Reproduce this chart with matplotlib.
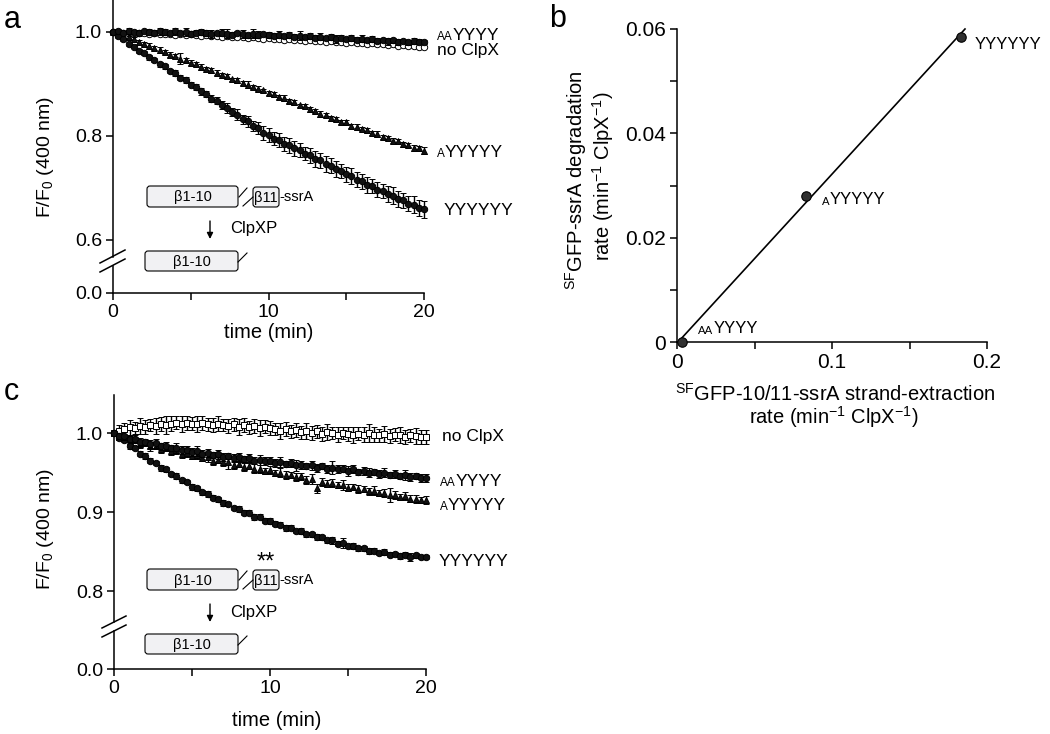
import numpy as np
import matplotlib
matplotlib.use('Agg')
import matplotlib.pyplot as plt
from matplotlib.patches import FancyBboxPatch

plt.rcParams['font.family'] = ['Liberation Sans', 'DejaVu Sans']
plt.rcParams['mathtext.default'] = 'regular'

# time axis of the kinetic traces (one reading every 20 s)
time_min = np.linspace(0, 20, 61)

# panel a : F/F0 traces
a_aa = [1.000, 1.001, 0.999, 1.002, 1.000, 0.998, 1.001, 1.000, 0.999, 1.001,
        1.000, 0.998, 1.001, 0.999, 1.000, 0.997, 0.999, 1.000, 0.998, 0.996,
        0.998, 0.999, 0.997, 0.995, 0.998, 0.996, 0.994, 0.997, 0.995, 0.996,
        0.994, 0.993, 0.995, 0.992, 0.994, 0.991, 0.993, 0.990, 0.992, 0.989,
        0.991, 0.988, 0.990, 0.987, 0.989, 0.986, 0.988, 0.985, 0.987, 0.984,
        0.986, 0.983, 0.985, 0.982, 0.984, 0.981, 0.983, 0.980, 0.982, 0.981, 0.981]
a_aa_err = [0.002, 0.004, 0.003, 0.005, 0.004, 0.006, 0.003, 0.005, 0.004, 0.007,
            0.005, 0.004, 0.006, 0.003, 0.008, 0.005, 0.004, 0.006, 0.005, 0.007,
            0.004, 0.006, 0.009, 0.005, 0.004, 0.007, 0.005, 0.008, 0.006, 0.004,
            0.006, 0.005, 0.007, 0.004, 0.006, 0.005, 0.008, 0.004, 0.006, 0.005,
            0.007, 0.004, 0.006, 0.008, 0.005, 0.004, 0.006, 0.005, 0.007, 0.004,
            0.006, 0.005, 0.004, 0.007, 0.005, 0.006, 0.004, 0.005, 0.006, 0.005, 0.004]
a_no = [1.000, 1.000, 0.998, 1.000, 0.999, 0.998, 0.999, 0.997, 0.998, 0.997,
        0.996, 0.997, 0.995, 0.996, 0.994, 0.996, 0.994, 0.993, 0.994, 0.992,
        0.993, 0.991, 0.992, 0.990, 0.991, 0.990, 0.988, 0.990, 0.988, 0.987,
        0.988, 0.986, 0.987, 0.985, 0.987, 0.984, 0.985, 0.983, 0.984, 0.982,
        0.983, 0.981, 0.982, 0.980, 0.981, 0.979, 0.980, 0.978, 0.979, 0.977,
        0.978, 0.976, 0.977, 0.975, 0.976, 0.974, 0.975, 0.973, 0.974, 0.972, 0.971]
a_no_err = [0.001, 0.002, 0.002, 0.003, 0.002, 0.002, 0.003, 0.002, 0.002, 0.003,
            0.002, 0.002, 0.003, 0.002, 0.002, 0.002, 0.003, 0.002, 0.002, 0.003,
            0.002, 0.002, 0.002, 0.003, 0.002, 0.002, 0.003, 0.002, 0.002, 0.002,
            0.003, 0.002, 0.002, 0.003, 0.002, 0.002, 0.002, 0.003, 0.002, 0.002,
            0.003, 0.002, 0.002, 0.002, 0.003, 0.002, 0.002, 0.003, 0.002, 0.002,
            0.002, 0.003, 0.002, 0.002, 0.003, 0.002, 0.002, 0.003, 0.002, 0.002, 0.002]
a_a = [1.000, 0.997, 0.993, 0.990, 0.986, 0.981, 0.977, 0.973, 0.970, 0.965,
       0.962, 0.956, 0.954, 0.949, 0.946, 0.941, 0.939, 0.933, 0.929, 0.926,
       0.922, 0.917, 0.915, 0.909, 0.907, 0.902, 0.899, 0.894, 0.891, 0.888,
       0.882, 0.880, 0.875, 0.873, 0.867, 0.865, 0.859, 0.857, 0.851, 0.848,
       0.843, 0.840, 0.834, 0.832, 0.827, 0.826, 0.820, 0.818, 0.813, 0.811,
       0.806, 0.804, 0.798, 0.797, 0.791, 0.790, 0.784, 0.782, 0.777, 0.776, 0.772]
a_a_err = [0.002, 0.003, 0.004, 0.003, 0.005, 0.004, 0.003, 0.005, 0.004, 0.006,
           0.004, 0.005, 0.003, 0.010, 0.004, 0.005, 0.004, 0.006, 0.003, 0.005,
           0.004, 0.005, 0.004, 0.003, 0.005, 0.004, 0.006, 0.004, 0.005, 0.003,
           0.004, 0.005, 0.004, 0.006, 0.004, 0.005, 0.003, 0.004, 0.005, 0.004,
           0.006, 0.004, 0.005, 0.004, 0.003, 0.005, 0.004, 0.006, 0.004, 0.005,
           0.004, 0.005, 0.004, 0.003, 0.005, 0.004, 0.005, 0.004, 0.006, 0.005, 0.006]
a_y = [1.000, 0.992, 0.986, 0.977, 0.972, 0.964, 0.959, 0.951, 0.946, 0.938,
       0.934, 0.925, 0.921, 0.912, 0.908, 0.899, 0.894, 0.886, 0.881, 0.872,
       0.868, 0.859, 0.854, 0.846, 0.841, 0.832, 0.828, 0.819, 0.815, 0.806,
       0.802, 0.795, 0.792, 0.785, 0.782, 0.776, 0.773, 0.766, 0.763, 0.756,
       0.753, 0.746, 0.743, 0.736, 0.733, 0.726, 0.723, 0.716, 0.713, 0.706,
       0.704, 0.697, 0.694, 0.688, 0.685, 0.679, 0.676, 0.670, 0.668, 0.662, 0.659]
a_y_err = [0.002, 0.003, 0.003, 0.004, 0.003, 0.004, 0.004, 0.005, 0.004, 0.005,
           0.005, 0.004, 0.006, 0.005, 0.006, 0.005, 0.006, 0.007, 0.006, 0.007,
           0.007, 0.008, 0.009, 0.008, 0.010, 0.009, 0.011, 0.010, 0.012, 0.013,
           0.014, 0.013, 0.014, 0.013, 0.014, 0.015, 0.014, 0.013, 0.014, 0.015,
           0.014, 0.015, 0.014, 0.015, 0.014, 0.015, 0.016, 0.015, 0.014, 0.015,
           0.014, 0.015, 0.014, 0.015, 0.016, 0.015, 0.014, 0.015, 0.016, 0.015, 0.016]

# panel b : rates
b_names = ['AAYYYY', 'AYYYYY', 'YYYYYY']
b_extract = [0.003, 0.083, 0.183]
b_degrade = [0.0, 0.028, 0.0585]

# panel c : F/F0 traces
c_no = [1.000, 1.003, 1.005, 1.007, 1.006, 1.009, 1.008, 1.010, 1.009, 1.011,
        1.010, 1.012, 1.013, 1.011, 1.013, 1.012, 1.011, 1.013, 1.011, 1.010,
        1.012, 1.010, 1.009, 1.011, 1.008, 1.010, 1.007, 1.009, 1.006, 1.008,
        1.006, 1.005, 1.003, 1.005, 1.002, 1.004, 1.001, 1.003, 1.000, 1.002,
        0.999, 1.001, 1.000, 0.998, 1.000, 0.999, 0.997, 0.999, 0.998, 1.000,
        0.998, 0.997, 0.999, 0.996, 0.998, 0.997, 0.995, 0.997, 0.996, 0.995, 0.995]
c_no_err = [0.004, 0.007, 0.008, 0.009, 0.008, 0.010, 0.009, 0.008, 0.010, 0.009,
            0.011, 0.009, 0.008, 0.010, 0.009, 0.008, 0.010, 0.009, 0.008, 0.009,
            0.010, 0.008, 0.009, 0.008, 0.010, 0.009, 0.008, 0.009, 0.010, 0.008,
            0.009, 0.008, 0.010, 0.009, 0.008, 0.009, 0.008, 0.010, 0.009, 0.008,
            0.009, 0.010, 0.008, 0.009, 0.008, 0.009, 0.010, 0.008, 0.009, 0.011,
            0.009, 0.008, 0.010, 0.009, 0.008, 0.010, 0.009, 0.008, 0.010, 0.009, 0.009]
c_aa = [1.000, 0.996, 0.996, 0.992, 0.993, 0.989, 0.989, 0.986, 0.987, 0.983,
        0.984, 0.981, 0.981, 0.978, 0.979, 0.976, 0.977, 0.974, 0.975, 0.972,
        0.973, 0.970, 0.971, 0.968, 0.969, 0.967, 0.968, 0.965, 0.966, 0.964,
        0.965, 0.962, 0.963, 0.961, 0.962, 0.959, 0.960, 0.958, 0.959, 0.956,
        0.958, 0.955, 0.956, 0.954, 0.955, 0.952, 0.954, 0.951, 0.952, 0.950,
        0.951, 0.948, 0.950, 0.947, 0.948, 0.946, 0.947, 0.944, 0.946, 0.943, 0.943]
c_aa_err = [0.003, 0.004, 0.005, 0.004, 0.006, 0.005, 0.004, 0.005, 0.006, 0.004,
            0.005, 0.004, 0.006, 0.005, 0.004, 0.005, 0.006, 0.004, 0.005, 0.004,
            0.006, 0.005, 0.004, 0.005, 0.006, 0.004, 0.005, 0.004, 0.006, 0.005,
            0.004, 0.005, 0.006, 0.004, 0.005, 0.007, 0.005, 0.004, 0.006, 0.005,
            0.004, 0.005, 0.008, 0.005, 0.004, 0.006, 0.005, 0.004, 0.005, 0.006,
            0.004, 0.005, 0.006, 0.004, 0.005, 0.004, 0.006, 0.005, 0.004, 0.005, 0.005]
c_a = [1.000, 0.995, 0.995, 0.990, 0.991, 0.986, 0.987, 0.983, 0.984, 0.980,
       0.981, 0.977, 0.978, 0.974, 0.975, 0.971, 0.972, 0.968, 0.969, 0.965,
       0.966, 0.963, 0.963, 0.960, 0.961, 0.957, 0.958, 0.955, 0.955, 0.952,
       0.953, 0.949, 0.950, 0.947, 0.947, 0.944, 0.945, 0.941, 0.942, 0.930,
       0.938, 0.936, 0.937, 0.934, 0.934, 0.931, 0.932, 0.929, 0.929, 0.926,
       0.927, 0.924, 0.924, 0.922, 0.922, 0.919, 0.920, 0.917, 0.917, 0.915, 0.915]
c_a_err = [0.003, 0.004, 0.004, 0.005, 0.004, 0.005, 0.004, 0.006, 0.004, 0.005,
           0.004, 0.005, 0.004, 0.006, 0.005, 0.004, 0.005, 0.004, 0.006, 0.005,
           0.004, 0.005, 0.008, 0.005, 0.004, 0.005, 0.004, 0.006, 0.005, 0.004,
           0.005, 0.004, 0.006, 0.005, 0.004, 0.005, 0.004, 0.005, 0.006, 0.006,
           0.005, 0.004, 0.005, 0.004, 0.006, 0.005, 0.004, 0.005, 0.004, 0.005,
           0.006, 0.004, 0.005, 0.009, 0.005, 0.004, 0.005, 0.004, 0.005, 0.004, 0.005]
c_y = [1.000, 0.994, 0.991, 0.984, 0.981, 0.974, 0.971, 0.965, 0.962, 0.956,
       0.954, 0.948, 0.946, 0.940, 0.938, 0.932, 0.930, 0.925, 0.923, 0.918,
       0.916, 0.911, 0.910, 0.905, 0.904, 0.899, 0.899, 0.894, 0.894, 0.889,
       0.889, 0.885, 0.884, 0.880, 0.880, 0.876, 0.876, 0.872, 0.872, 0.868,
       0.868, 0.864, 0.864, 0.860, 0.861, 0.857, 0.857, 0.854, 0.854, 0.851,
       0.851, 0.848, 0.849, 0.846, 0.847, 0.844, 0.846, 0.843, 0.845, 0.843, 0.843]
c_y_err = [0.002, 0.003, 0.003, 0.004, 0.003, 0.003, 0.004, 0.003, 0.003, 0.004,
           0.003, 0.003, 0.004, 0.003, 0.003, 0.004, 0.003, 0.003, 0.004, 0.003,
           0.003, 0.004, 0.003, 0.003, 0.004, 0.003, 0.003, 0.004, 0.003, 0.003,
           0.004, 0.003, 0.003, 0.004, 0.003, 0.003, 0.004, 0.003, 0.003, 0.004,
           0.003, 0.003, 0.004, 0.003, 0.006, 0.003, 0.004, 0.003, 0.003, 0.004,
           0.003, 0.003, 0.004, 0.003, 0.003, 0.004, 0.003, 0.005, 0.003, 0.003, 0.003]

W, H = 1050, 734
fig = plt.figure(figsize=(10.5, 7.34), dpi=100)


def px_axes(left, top, right, bottom, **kw):
    return fig.add_axes([left / W, 1 - bottom / H, (right - left) / W, (bottom - top) / H], **kw)


def style(ax, fs=14):
    for s in ['top', 'right']:
        ax.spines[s].set_visible(False)
    for s in ['left', 'bottom']:
        ax.spines[s].set_linewidth(1.1)
    ax.tick_params(direction='out', length=5, width=1.1, labelsize=fs, pad=3)


def broken_panel(left, right, top, brk_top, brk_bot, bottom, up_lim, lo_top, yticks):
    up = px_axes(left, top, right, brk_top)
    lo = px_axes(left, brk_bot, right, bottom)
    style(up)
    style(lo)
    up.spines['bottom'].set_visible(False)
    up.tick_params(axis='x', bottom=False, labelbottom=False)
    up.set_xlim(0, 20)
    up.set_ylim(*up_lim)
    up.set_yticks(yticks)
    up.set_yticklabels(['%.1f' % v for v in yticks])
    lo.set_xlim(0, 20)
    lo.set_ylim(0, lo_top)
    lo.set_yticks([0])
    lo.set_yticklabels(['0.0'])
    lo.set_xticks([0, 5, 10, 15, 20])
    lo.set_xticklabels(['0', '', '10', '', '20'])
    up.patch.set_alpha(0)
    lo.patch.set_alpha(0)
    return up, lo


def trace(ax, y, err, marker, filled=True, z=3):
    ax.errorbar(time_min, y, yerr=err, fmt=marker, ms=4.6,
                mfc='#111111' if filled else 'white', mec='k', mew=0.7,
                ecolor='k', elinewidth=1.0, capsize=2.3, capthick=1.0,
                clip_on=False, zorder=z)


# ---- panel a ----
a_up, a_lo = broken_panel(113, 424, 0, 257, 266, 293, (0.5673, 1.0615), 0.052, [0.6, 0.8, 1.0])
trace(a_up, a_no, a_no_err, 'o', filled=False, z=3)
trace(a_up, a_aa, a_aa_err, 'o', z=4)
trace(a_up, a_a, a_a_err, '^', z=3)
trace(a_up, a_y, a_y_err, 'o', z=3)

# ---- panel c ----
c_up, c_lo = broken_panel(114, 426, 395, 622, 631, 669, (0.7608, 1.0481), 0.048, [0.8, 0.9, 1.0])
trace(c_up, c_no, c_no_err, 's', filled=False, z=3)
trace(c_up, c_aa, c_aa_err, 'o', z=4)
trace(c_up, c_a, c_a_err, '^', z=3)
trace(c_up, c_y, c_y_err, 'o', z=3)

# ---- panel b ----
axb = px_axes(677, 29, 987, 342)
style(axb, fs=15)
axb.set_xlim(0, 0.2)
axb.set_ylim(0, 0.06)
axb.set_xticks([0, 0.05, 0.1, 0.15, 0.2])
axb.set_xticklabels(['0', '', '0.1', '', '0.2'])
axb.set_yticks([0, 0.01, 0.02, 0.03, 0.04, 0.05, 0.06])
axb.set_yticklabels(['0', '', '0.02', '', '0.04', '', '0.06'])
slope, icpt = np.polyfit(b_extract, b_degrade, 1)
xl = np.array([-icpt / slope, (0.06 - icpt) / slope])
axb.plot(xl, slope * xl + icpt, color='k', lw=1.2, clip_on=False)
axb.plot(b_extract, b_degrade, 'o', ms=6.8, mfc='#303030', mec='k', mew=0.8,
         clip_on=False, zorder=4)

# ---- overlay in pixel coordinates for texts and schematics ----
ov = fig.add_axes([0, 0, 1, 1], zorder=10)
ov.set_xlim(0, W)
ov.set_ylim(H, 0)
ov.axis('off')
ov.patch.set_alpha(0)


def caps_label(x, y, name, fs=12.5):
    small = name[:len(name) - len(name.lstrip('A'))]
    big = name[len(small):]
    if small:
        t1 = ov.text(x, y + 6, small, fontsize=fs * 0.68, va='baseline', ha='left')
        ov.annotate(big, xy=(1, 0), xycoords=t1, fontsize=fs, va='bottom', ha='left')
    else:
        ov.text(x, y + 6, big, fontsize=fs, va='baseline', ha='left')


caps_label(437, 34, 'AAYYYY')
ov.text(437, 50, 'no ClpX', fontsize=12.5, va='center', ha='left')
caps_label(437, 151, 'AYYYYY')
caps_label(444, 209, 'YYYYYY')

ov.text(442, 436, 'no ClpX', fontsize=12.5, va='center', ha='left')
caps_label(440, 480, 'AAYYYY')
caps_label(440, 504, 'AYYYYY')
caps_label(439, 560, 'YYYYYY')

for nm, (lx, ly) in zip(b_names, [(698, 328), (822, 199), (975, 43)]):
    caps_label(lx, ly, nm, fs=12)


def box(x0, y0, x1, y1, label):
    ov.add_patch(FancyBboxPatch((x0, y0), x1 - x0, y1 - y0,
                                boxstyle='round,pad=0,rounding_size=3',
                                fc='#f1f1f3', ec='k', lw=0.8))
    ov.text((x0 + x1) / 2, (y0 + y1) / 2 + 1, label, fontsize=10.5, ha='center', va='center')


def schematic(T, stars=False):
    box(147, T, 238, T + 21, '\u03b21-10')
    ov.plot([239, 247], [T + 11, T + 2], color='k', lw=0.8)
    ov.plot([243, 253], [T + 20, T + 11], color='k', lw=0.8)
    box(253, T + 1, 279, T + 21, '\u03b211')
    ov.text(279, T + 11, '-ssrA', fontsize=10.5, ha='left', va='center')
    ov.annotate('', xy=(210, T + 53), xytext=(210, T + 35),
                arrowprops=dict(arrowstyle='-|>', color='k', lw=1.0, mutation_scale=9,
                                shrinkA=0, shrinkB=0))
    ov.text(230, T + 43, 'ClpXP', fontsize=12, ha='left', va='center')
    box(145, T + 65, 238, T + 85, '\u03b21-10')
    ov.plot([238, 247], [T + 76, T + 67], color='k', lw=0.8)
    if stars:
        ov.text(266, T - 6, '**', fontsize=17, ha='center', va='center')


schematic(186)
schematic(569, stars=True)

# axis break marks
for yb in (263, 272):
    ov.plot([100, 125], [yb, yb - 13], color='k', lw=1.1)
for yb in (628, 637):
    ov.plot([102, 126], [yb, yb - 12], color='k', lw=1.1)

# axis titles
ov.text(45, 157, 'F/F$_0$ (400 nm)', fontsize=14, rotation=90, ha='center', va='center')
ov.text(45, 529, 'F/F$_0$ (400 nm)', fontsize=14, rotation=90, ha='center', va='center')
ov.text(269, 333, 'time (min)', fontsize=14.5, ha='center', va='center')
ov.text(277, 721, 'time (min)', fontsize=14.5, ha='center', va='center')
ov.text(576, 180, '$^{SF}$GFP-ssrA degradation', fontsize=14.5, rotation=90, ha='center', va='center')
ov.text(603, 176, 'rate (min$^{-1}$ ClpX$^{-1}$)', fontsize=14.5, rotation=90, ha='center', va='center')
ov.text(835, 394, '$^{SF}$GFP-10/11-ssrA strand-extraction', fontsize=14.5, ha='center', va='center')
ov.text(834, 417, 'rate (min$^{-1}$ ClpX$^{-1}$)', fontsize=14.5, ha='center', va='center')

# panel letters
ov.text(4, 28, 'a', fontsize=22, ha='left', va='baseline')
ov.text(549, 27, 'b', fontsize=22, ha='left', va='baseline')
ov.text(4, 400, 'c', fontsize=22, ha='left', va='baseline')

fig.savefig('out.png', dpi=100)
